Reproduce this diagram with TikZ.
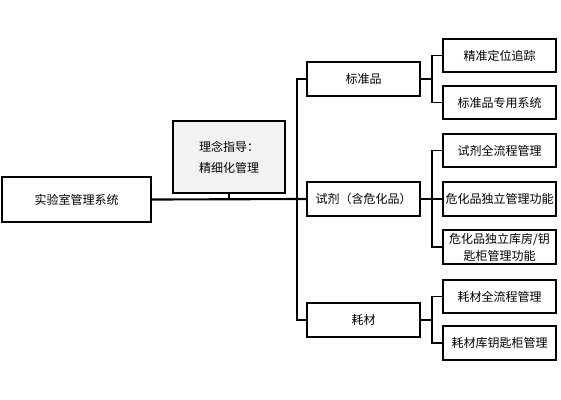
\documentclass[tikz,border=0pt]{standalone}
\usepackage{fontspec}
\newfontfamily\cjk{Noto Sans CJK SC}
\usepackage{tikz}

\begin{document}
\begin{tikzpicture}[x=0.75pt, y=-0.75pt,
    box/.style={draw, line width=0.8pt, minimum width=113*0.75pt, minimum height=34*0.75pt, inner sep=1pt, font=\cjk\fontsize{9}{12.75}\selectfont, align=center},
    link/.style={line width=0.8pt}]
            \useasboundingbox (0,0) rectangle (561,400);

            % Nodes
            \node[box, minimum width=149*0.75pt, minimum height=45*0.75pt] (root) at (76.5, 199.5) {实验室管理系统};
            \node[box, fill=gray!10, minimum width=112*0.75pt, minimum height=72*0.75pt, font=\cjk\fontsize{9}{15.75}\selectfont] (guide) at (229, 157) {理念指导：\\精细化管理};
            \node[box] (std) at (363.5, 79) {标准品};
            \node[box] (reag) at (363.5, 199) {试剂（含危化品）};
            \node[box] (cons) at (363.5, 320) {耗材};
            \node[box, minimum height=33*0.75pt] (a1) at (499.5, 55.5) {精准定位追踪};
            \node[box, minimum height=33*0.75pt] (a2) at (499.5, 102.5) {标准品专用系统};
            \node[box, minimum height=33*0.75pt] (b1) at (499.5, 150.5) {试剂全流程管理};
            \node[box] (b2) at (499.5, 199) {危化品独立管理功能};
            \node[box] (b3) at (499.5, 247) {危化品独立库房/钥\\匙柜管理功能};
            \node[box, minimum height=33*0.75pt] (c1) at (499.5, 296.5) {耗材全流程管理};
            \node[box] (c2) at (499.5, 343) {耗材库钥匙柜管理};

            \coordinate (t0) at (297, 199);
            \coordinate (t1) at (432, 79);
            \coordinate (t2) at (432, 199);
            \coordinate (t3) at (432, 320);

            % Lines
            \draw[line width=1.6pt] (root.east) -- (reag.west);
            \draw[link] (guide.south) -- (guide.south |- t0);
            \draw[link] (std.west) -| (t0) |- (cons.west);
            \draw[link] (std.east) -- (t1);
            \draw[link] (a1.west) -| (t1) |- (a2.west);
            \draw[link] (reag.east) -- (b2.west);
            \draw[link] (b1.west) -| (t2) |- (b3.west);
            \draw[link] (cons.east) -- (t3);
            \draw[link] (c1.west) -| (t3) |- (c2.west);
        \end{tikzpicture}
\end{document}
